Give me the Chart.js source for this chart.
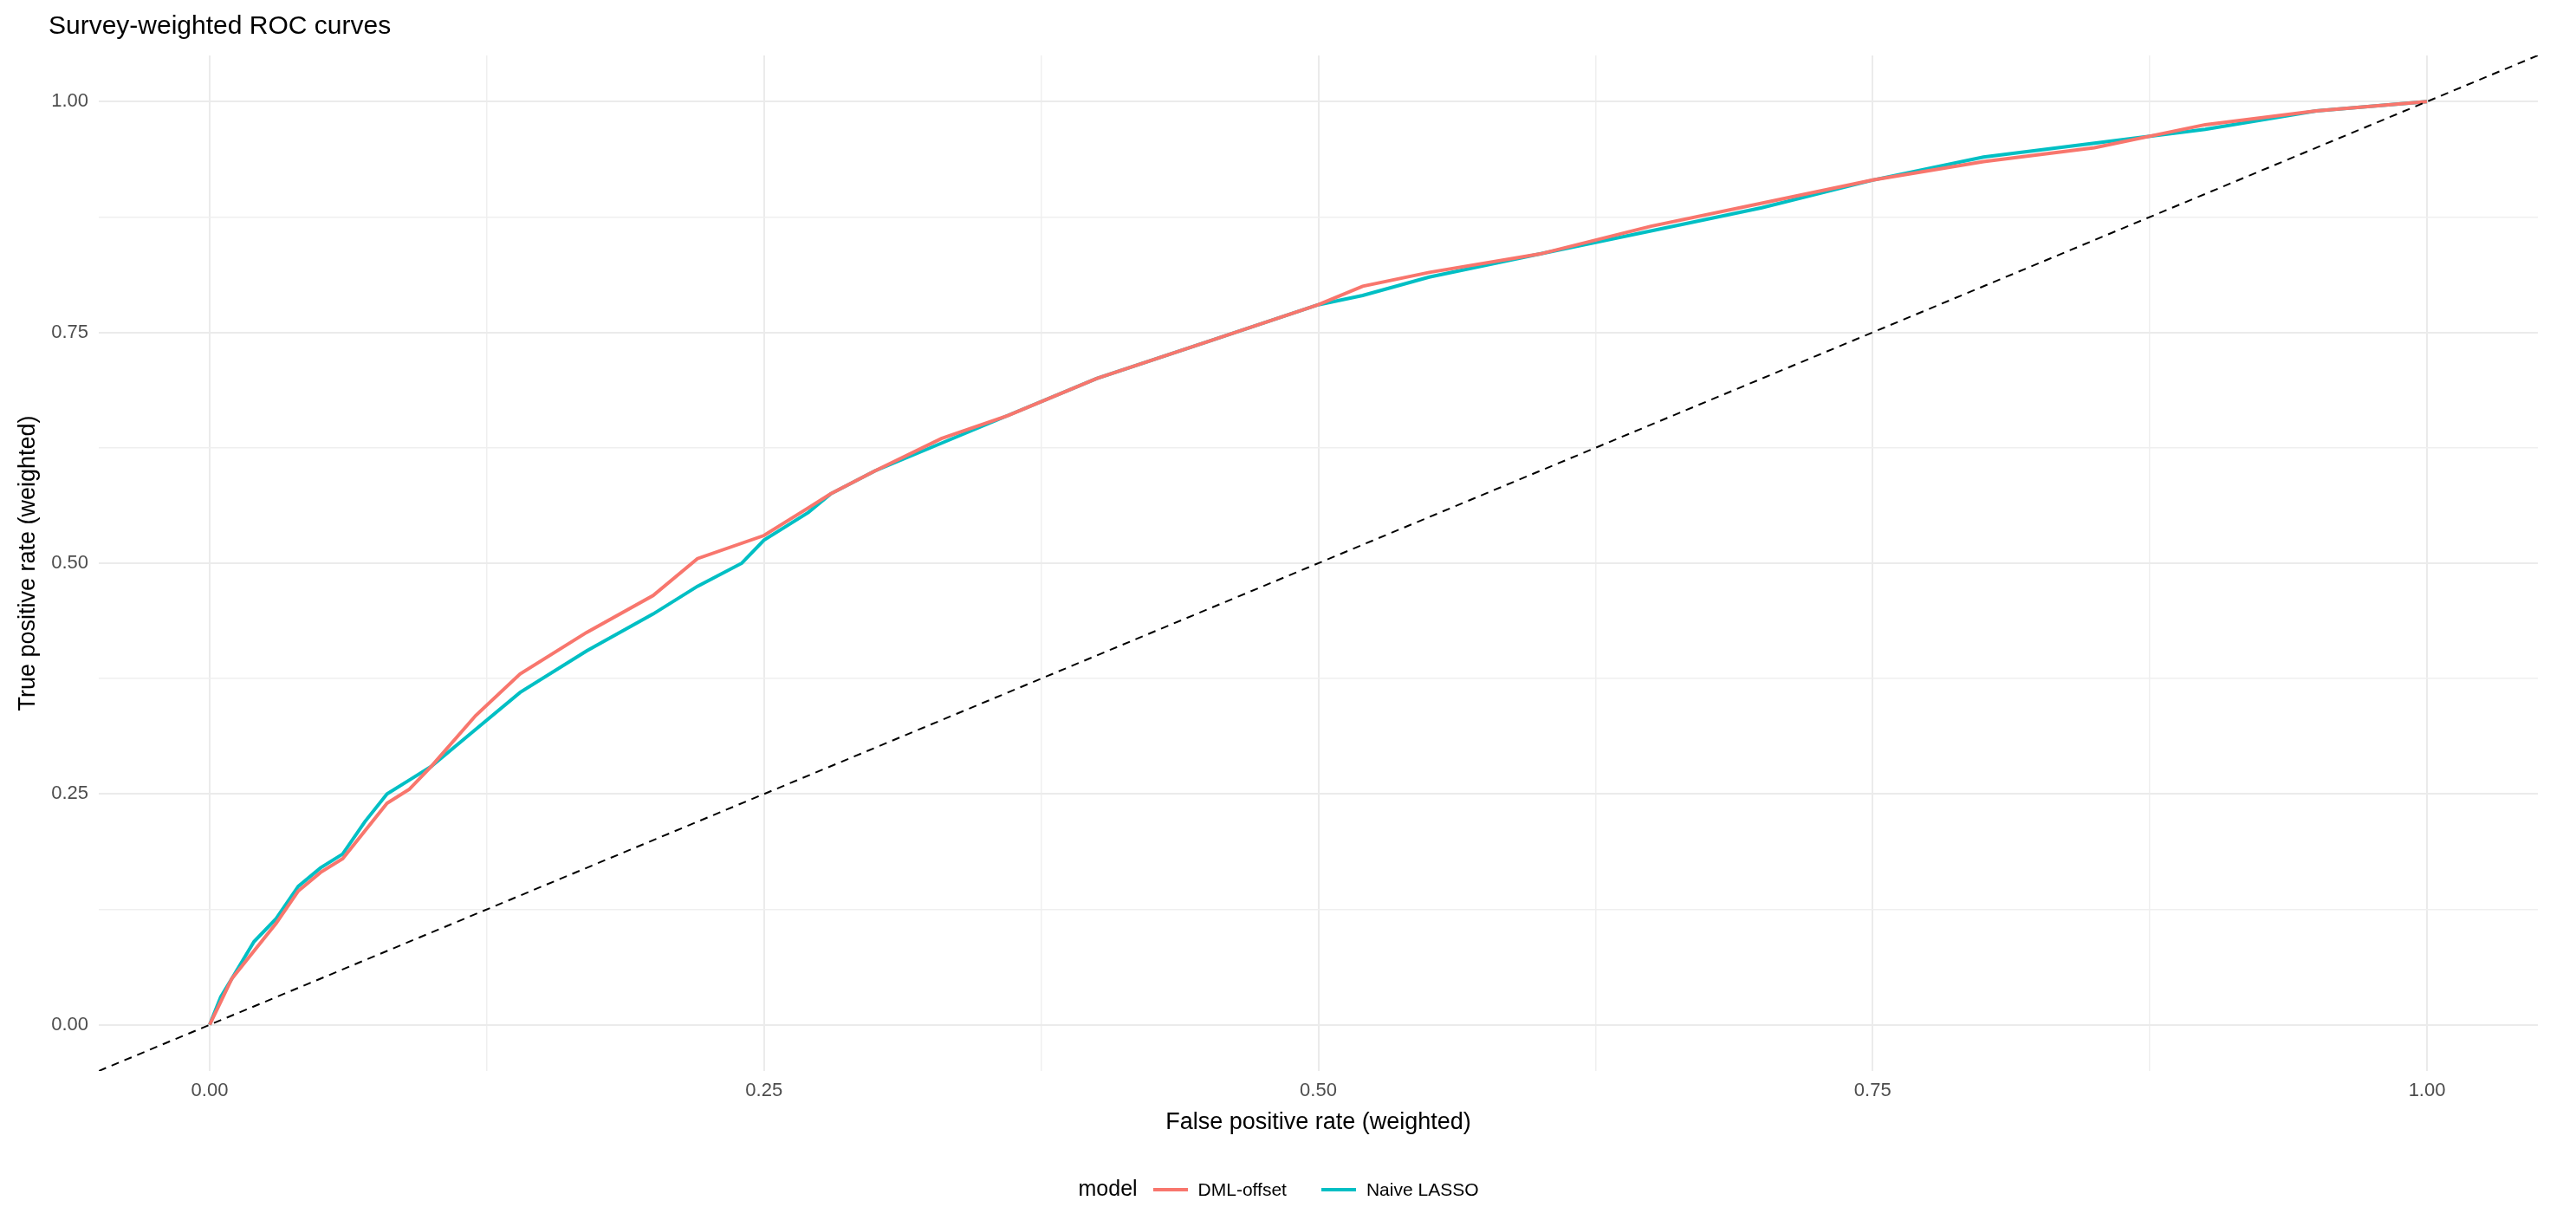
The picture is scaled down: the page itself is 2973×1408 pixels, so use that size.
<!DOCTYPE html>
<html>
<head>
<meta charset="utf-8">
<script src="https://cdn.jsdelivr.net/npm/chart.js@4.4.1/dist/chart.umd.min.js"></script>
<style>
  body { margin: 0; background: #fff; font-family: "Liberation Sans", Arial, sans-serif; }
  #wrap { position: relative; width: 2973px; height: 1408px; }
  #titulo { position: absolute; left: 56px; top: 12px; font-size: 30px; color: #000; }
  #leyenda { position: absolute; left: 0; width: 2973px; top: 1357px; text-align: center; font-size: 25px; color: #000; }
  #leyenda span.item { font-size: 21px; margin-right: 22px; }
  #leyenda i { display: inline-block; width: 40px; height: 4px; vertical-align: middle; margin: 0 12px 0 18px; }
</style>
</head>
<body>
<div id="wrap">
  <div id="titulo">Survey-weighted ROC curves</div>
  <canvas id="grafico" width="2973" height="1408"></canvas>
  <div id="leyenda">model<i style="background:#F8766D"></i><span class="item">DML-offset</span><i style="background:#00BFC4"></i><span class="item">Naive LASSO</span></div>
</div>
<script>
// Datos
const fprDml = [0, 0.005, 0.01, 0.02, 0.03, 0.04, 0.05, 0.06, 0.07, 0.08, 0.09, 0.10, 0.12, 0.14, 0.17, 0.20, 0.22, 0.25, 0.27, 0.28, 0.30, 0.33, 0.36, 0.40, 0.45, 0.50, 0.52, 0.55, 0.60, 0.65, 0.70, 0.75, 0.80, 0.85, 0.90, 0.95, 1.00];
const tprDml = [0, 0.025, 0.05, 0.08, 0.11, 0.145, 0.165, 0.18, 0.21, 0.24, 0.255, 0.28, 0.335, 0.38, 0.425, 0.465, 0.505, 0.53, 0.56, 0.575, 0.60, 0.635, 0.66, 0.70, 0.74, 0.78, 0.80, 0.815, 0.835, 0.865, 0.89, 0.915, 0.935, 0.95, 0.975, 0.99, 1.00];
const fprNaive = [0, 0.005, 0.01, 0.02, 0.03, 0.04, 0.05, 0.06, 0.07, 0.08, 0.09, 0.10, 0.12, 0.14, 0.17, 0.20, 0.22, 0.24, 0.25, 0.27, 0.28, 0.30, 0.33, 0.36, 0.40, 0.45, 0.50, 0.52, 0.55, 0.60, 0.65, 0.70, 0.75, 0.80, 0.85, 0.90, 0.95, 1.00];
const tprNaive = [0, 0.03, 0.05, 0.09, 0.115, 0.15, 0.17, 0.185, 0.22, 0.25, 0.265, 0.28, 0.32, 0.36, 0.405, 0.445, 0.475, 0.50, 0.525, 0.555, 0.575, 0.60, 0.63, 0.66, 0.70, 0.74, 0.78, 0.79, 0.81, 0.835, 0.86, 0.885, 0.915, 0.94, 0.955, 0.97, 0.99, 1.00];
const diagonal = [-0.05, 1.05];
const ticksEjes = [0, 0.125, 0.25, 0.375, 0.5, 0.625, 0.75, 0.875, 1];

function puntos(xs, ys) {
    return xs.map((x, i) => ({ x: x, y: ys[i] }));
}

const esMayor = (v) => Math.abs(v / 0.25 - Math.round(v / 0.25)) < 1e-6;
const fuente = { family: '"Liberation Sans", Arial, sans-serif', size: 22 };
const rejilla = {
    color: (c) => (esMayor(c.tick.value) ? '#EBEBEB' : '#EFEFEF'),
    lineWidth: (c) => (esMayor(c.tick.value) ? 2 : 1.5),
    drawTicks: false
};
const etiqueta = (v) => (esMayor(v) ? v.toFixed(2) : '');

new Chart(document.getElementById('grafico').getContext('2d'), {
    type: 'scatter',
    data: {
        datasets: [
            {
                label: 'diagonal',
                data: puntos(diagonal, diagonal),
                showLine: true, borderColor: '#000', borderWidth: 2, borderDash: [9, 7],
                pointRadius: 0
            },
            {
                label: 'DML-offset',
                data: puntos(fprDml, tprDml),
                showLine: true, borderColor: '#F8766D', borderWidth: 4, pointRadius: 0
            },
            {
                label: 'Naive LASSO',
                data: puntos(fprNaive, tprNaive),
                showLine: true, borderColor: '#00BFC4', borderWidth: 4, pointRadius: 0
            }
        ]
    },
    options: {
        responsive: false,
        animation: false,
        layout: { padding: { top: 64, right: 44, bottom: 92, left: 12 } },
        plugins: { legend: { display: false }, tooltip: { enabled: false } },
        scales: {
            x: {
                type: 'linear', min: -0.05, max: 1.05,
                afterBuildTicks: (s) => { s.ticks = ticksEjes.map(v => ({ value: v })); },
                afterFit: (s) => { s.height = 80; },
                border: { display: false },
                grid: rejilla,
                ticks: { font: fuente, color: '#4D4D4D', padding: 10, autoSkip: false, maxRotation: 0, callback: etiqueta },
                title: { display: true, text: 'False positive rate (weighted)', color: '#000', font: { family: fuente.family, size: 27 }, padding: { top: 4 } }
            },
            y: {
                type: 'linear', min: -0.05, max: 1.05,
                afterBuildTicks: (s) => { s.ticks = ticksEjes.map(v => ({ value: v })); },
                afterFit: (s) => { s.width = 102; },
                border: { display: false },
                grid: rejilla,
                ticks: { font: fuente, color: '#4D4D4D', padding: 12, autoSkip: false, callback: etiqueta },
                title: { display: true, text: 'True positive rate (weighted)', color: '#000', font: { family: fuente.family, size: 27 }, padding: { bottom: 4 } }
            }
        }
    }
});
</script>
</body>
</html>
